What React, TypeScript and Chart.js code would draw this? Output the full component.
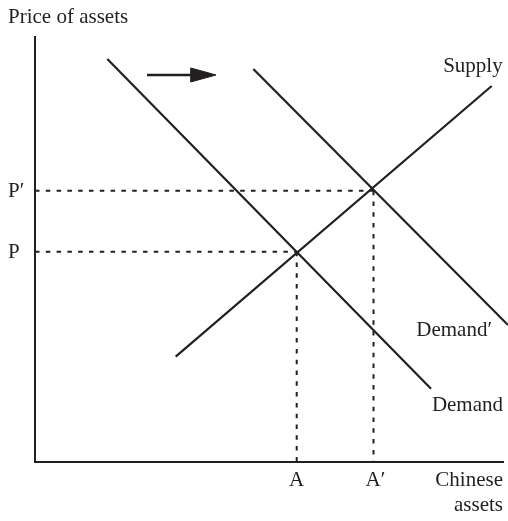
import React, { useEffect, useRef } from "react";
import { Chart, registerables } from "chart.js";

Chart.register(...registerables);

// Curves (x: quantity of Chinese assets, y: price of assets), axis 0..100
const supplyX = [30.06, 97.58];
const supplyY = [24.78, 88.47];
const demandX = [15.45, 84.62];
const demandY = [94.82, 17.25];
const demand2X = [46.65, 101.07];
const demand2Y = [92.47, 32.24];

// Equilibria
const eqLabelsX = ["A", "A\u2032"];
const eqLabelsY = ["P", "P\u2032"];
const eqX = [55.92, 72.33];
const eqY = [49.48, 63.84];

// Shift arrow
const arrowShaftX = [23.93, 33.5];
const arrowShaftY = [91.06, 91.06];
const arrowHeadX = [33.27, 38.68, 33.27, 33.27];
const arrowHeadY = [92.71, 91.06, 89.41, 92.71];

const curveLabels = ["Supply", "Demand\u2032", "Demand"];
const axisTitleY = "Price of assets";
const axisTitleX = ["Chinese", "assets"];

const INK = "#231f20";
const FONT = '21px "Liberation Serif", "Times New Roman", serif';

const pts = (xs: number[], ys: number[]) => xs.map((x, i) => ({ x, y: ys[i] }));

const labelPlugin = {
  id: "labels",
  afterDraw(chart: any) {
    const { ctx, chartArea, scales } = chart;
    const xs = scales.x;
    const ys = scales.y;
    ctx.save();
    ctx.fillStyle = INK;
    ctx.font = FONT;
    ctx.textBaseline = "alphabetic";
    // axis titles
    ctx.textAlign = "left";
    ctx.fillText(axisTitleY, 8, chartArea.top - 14);
    ctx.textAlign = "right";
    ctx.fillText(axisTitleX[0], chartArea.right, chartArea.bottom + 24);
    ctx.fillText(axisTitleX[1], chartArea.right, chartArea.bottom + 49);
    // equilibrium tick labels
    ctx.textAlign = "center";
    eqLabelsX.forEach((t, i) => {
      ctx.fillText(t, xs.getPixelForValue(eqX[i]) + (i === 1 ? 2 : 0), chartArea.bottom + 24);
    });
    ctx.textAlign = "left";
    eqLabelsY.forEach((t, i) => {
      ctx.fillText(t, 8, ys.getPixelForValue(eqY[i]) + 6);
    });
    // curve labels
    ctx.textAlign = "right";
    const sx = xs.getPixelForValue(supplyX[1]);
    const sy = ys.getPixelForValue(supplyY[1]);
    ctx.fillText(curveLabels[0], sx + 11, sy - 14);
    const dx = xs.getPixelForValue(demandX[1]);
    const dy = ys.getPixelForValue(demandY[1]);
    ctx.fillText(curveLabels[2], dx + 72, dy + 22);
    ctx.fillText(curveLabels[1], dx + 61, dy - 53);
    ctx.restore();
  },
};

export default function App() {
  const ref = useRef<HTMLCanvasElement | null>(null);
  useEffect(() => {
    if (!ref.current) return;
    const solid = {
      borderColor: INK,
      borderWidth: 2.2,
      pointRadius: 0,
      tension: 0,
      fill: false,
    };
    const dashed = {
      borderColor: INK,
      borderWidth: 2,
      borderDash: [4.5, 6.3],
      pointRadius: 0,
      tension: 0,
      fill: false,
    };
    const chart = new Chart(ref.current, {
      type: "line",
      data: {
        datasets: [
          { ...dashed, data: pts([0, eqX[0]], [eqY[0], eqY[0]]) },
          { ...dashed, data: pts([eqX[0], eqX[0]], [eqY[0], 0]) },
          { ...dashed, data: pts([0, eqX[1]], [eqY[1], eqY[1]]) },
          { ...dashed, data: pts([eqX[1], eqX[1]], [eqY[1], 0]) },
          { ...solid, data: pts(supplyX, supplyY) },
          { ...solid, data: pts(demandX, demandY) },
          { ...solid, data: pts(demand2X, demand2Y), clip: false },
          { ...solid, borderWidth: 2.5, data: pts(arrowShaftX, arrowShaftY) },
          {
            ...solid,
            borderWidth: 1,
            data: pts(arrowHeadX, arrowHeadY),
            fill: "shape",
            backgroundColor: INK,
          },
        ] as any,
      },
      options: {
        responsive: false,
        animation: false,
        events: [],
        layout: { padding: { left: 35, top: 37, right: 5, bottom: 59 } },
        plugins: { legend: { display: false }, tooltip: { enabled: false } },
        scales: {
          x: {
            type: "linear",
            min: 0,
            max: 100,
            grid: { display: false, drawTicks: false, tickLength: 0 },
            ticks: { display: false, padding: 0 },
            border: { display: true, color: INK, width: 2 },
          },
          y: {
            type: "linear",
            min: 0,
            max: 100,
            grid: { display: false, drawTicks: false, tickLength: 0 },
            ticks: { display: false, padding: 0 },
            border: { display: true, color: INK, width: 2 },
          },
        },
      } as any,
      plugins: [labelPlugin],
    });
    return () => chart.destroy();
  }, []);
  return (
    <div style={{ position: "absolute", left: 0, top: 0, width: 508, height: 521, background: "#fff" }}>
      <canvas ref={ref} width={508} height={521} style={{ display: "block" }} />
    </div>
  );
}
